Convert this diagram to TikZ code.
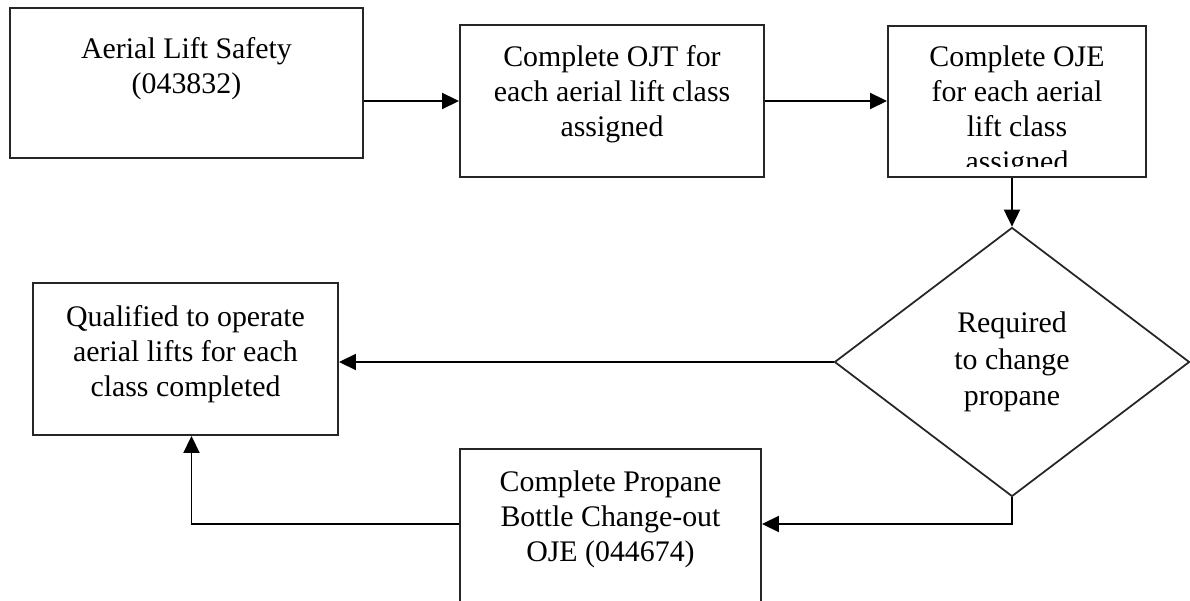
\documentclass[tikz,border=0pt]{standalone}
\usepackage{fontspec}
\setmainfont{Liberation Serif}
\usetikzlibrary{positioning,shapes.geometric,arrows.meta}

\begin{document}
\begin{tikzpicture}[
		>={Triangle[length=3.4mm,width=3.2mm]},
		stepbox/.style={rectangle,draw=black!85,line width=1.1pt,inner sep=0pt},
		boxtext/.style={align=center,inner sep=0pt,font=\fontsize{17}{20}\selectfont},
		decision/.style={diamond,draw=black!85,line width=1pt,inner sep=0pt,
		minimum width=7.1cm,minimum height=5.38cm,align=center,
		font=\fontsize{17}{20.8}\selectfont},
		link/.style={line width=1.1pt}
		]

		\clip (0,0) rectangle (23.8,12);

		\node[stepbox, minimum width=7.06cm, minimum height=3cm](S1) at (3.73,10.34){};
		\node[boxtext, below=0.6cm of S1.north](T1){Aerial Lift Safety\\(043832)};

		\node[stepbox, minimum width=6.08cm, minimum height=3.04cm](S2) at (12.24,9.98){};
		\node[boxtext, below=0.42cm of S2.north](T2){Complete OJT for\\each aerial lift class\\assigned};

		\node[stepbox, minimum width=5.16cm, minimum height=3.02cm](S3) at (20.34,9.97){};
		\begin{scope}
			\clip ([yshift=0.22cm]S3.south west) rectangle (S3.north east);
			\node[boxtext, below=0.4cm of S3.north](T3){Complete OJE\\for each aerial\\lift class\\assigned};
		\end{scope}

		\node[decision](S4) at (20.24,4.76){Required\\to change\\propane};

		\node[stepbox, minimum width=6.1cm, minimum height=3.04cm](S5) at (3.71,4.82){};
		\node[boxtext, below=0.46cm of S5.north](T5){Qualified to operate\\aerial lifts for each\\class completed};

		% bottom edge runs off the page
		\node[stepbox, minimum width=6.02cm, minimum height=3.4cm](S6) at (12.21,1.32){};
		\node[boxtext, below=0.44cm of S6.north](T6){Complete Propane\\Bottle Change-out\\OJE (044674)};
		\coordinate (J1) at ([yshift=0.2cm]S6.east);
		\coordinate (J2) at ([yshift=0.2cm]S6.west);

		\draw[link, ->] (S1.east |- S2.west) -- (S2.west);
		\draw[link, ->] (S2.east) -- (S2.east -| S3.west);
		\draw[link, ->] (S3.south -| S4.north) -- (S4.north);
		\draw[link, ->] (S4.west) -- (S4.west -| S5.east);
		\draw[link, ->] (S4.south) |- (J1);
		\draw[link, ->] (J2) -| ([xshift=0.12cm]S5.south);
	\end{tikzpicture}
\end{document}
